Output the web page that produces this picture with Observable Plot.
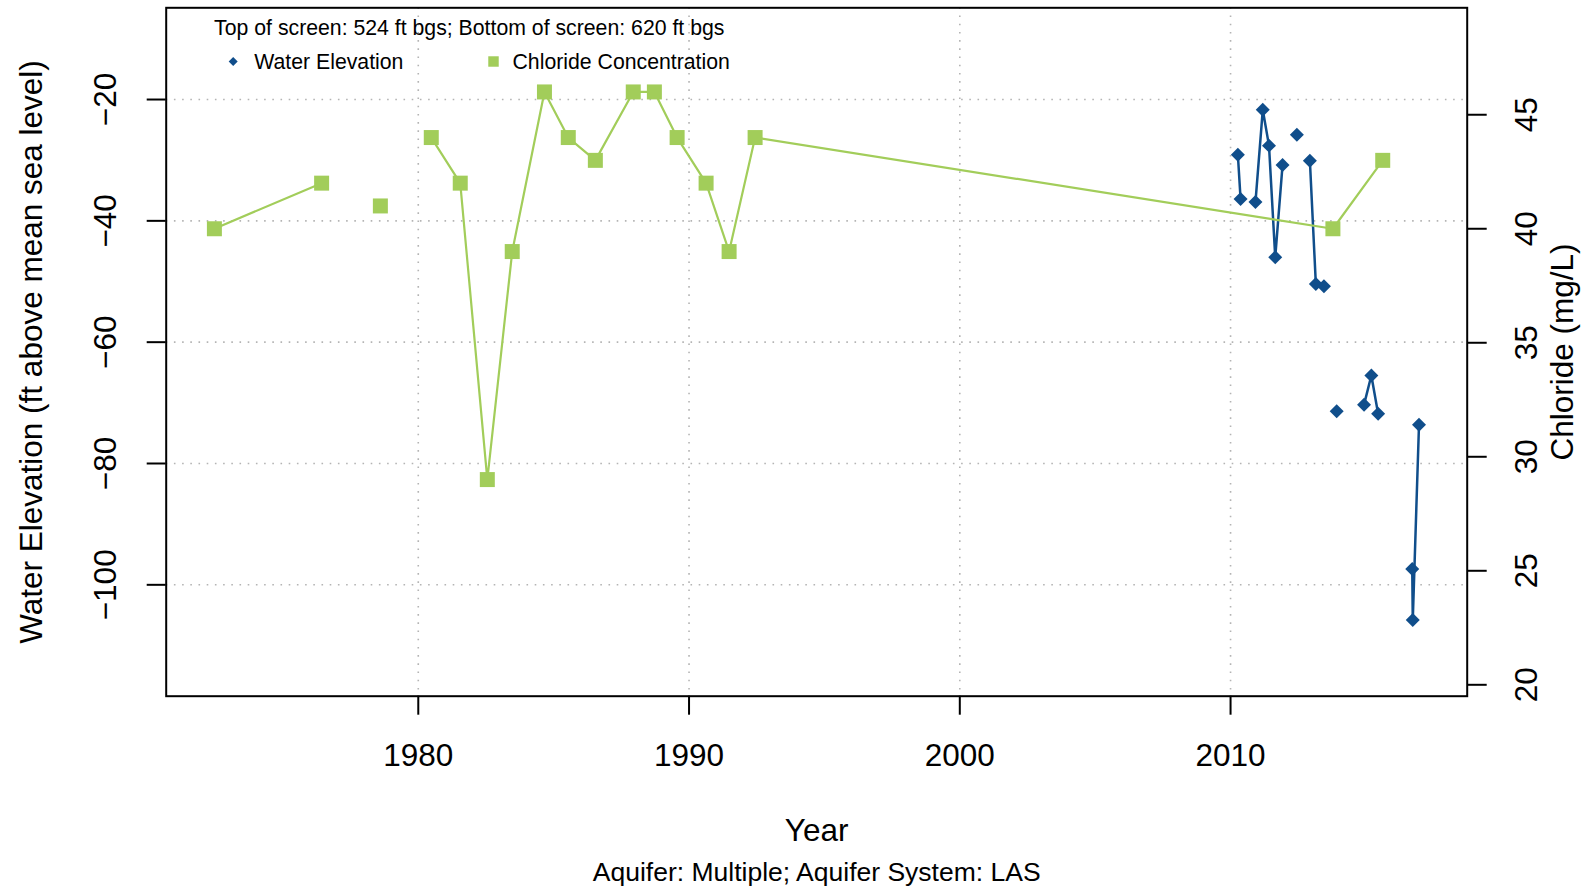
<!DOCTYPE html>
<html>
<head>
<meta charset="utf-8">
<script src="https://cdn.jsdelivr.net/npm/d3@7"></script>
<script src="https://cdn.jsdelivr.net/npm/@observablehq/plot@0.6"></script>
<style>
  html, body { margin: 0; padding: 0; background: #ffffff; }
  #chart svg { display: block; }
</style>
</head>
<body>
<div id="chart"></div>
<script>
// ---- Data ----
const chlYear  = [1972.47, 1976.43, 1978.60, 1980.48, 1981.55, 1982.55, 1983.47, 1984.66, 1985.54, 1986.54, 1987.94, 1988.72, 1989.56, 1990.63, 1991.48, 1992.44, 2013.78, 2015.62];
const chlValue = [40, 42, 41, 44, 42, 29, 39, 46, 44, 43, 46, 46, 44, 42, 39, 44, 40, 43];
const chlGroup = [1, 1, 2, 3, 3, 3, 3, 3, 3, 3, 3, 3, 3, 3, 3, 3, 3, 3];

const wlYear  = [2010.27, 2010.37, 2010.92, 2011.19, 2011.42, 2011.65, 2011.92, 2012.45, 2012.93, 2013.15, 2013.45, 2013.92, 2014.93, 2015.20, 2015.45, 2016.71, 2016.73, 2016.96];
const wlValue = [-29.1, -36.4, -36.9, -21.7, -27.6, -46.0, -30.8, -25.8, -30.1, -50.4, -50.8, -71.4, -70.3, -65.5, -71.8, -97.4, -105.8, -73.6];
const wlGroup = [1, 1, 2, 2, 2, 2, 2, 3, 4, 4, 4, 5, 6, 6, 6, 7, 7, 7];

const xTicks   = [1980, 1990, 2000, 2010];
const yTicks   = [-20, -40, -60, -80, -100];
const chlTicks = [20, 25, 30, 35, 40, 45];

const xDomain   = [1970.69, 2018.74];
const yDomain   = [-118.36, -4.88];
const chlDomain = [19.5, 49.69];

const subtitle = "Top of screen: 524 ft bgs; Bottom of screen: 620 ft bgs";
const legendLabels = ["Water Elevation", "Chloride Concentration"];
const xTitle = "Year";
const yTitle = "Water Elevation (ft above mean sea level)";
const y2Title = "Chloride (mg/L)";
const caption = "Aquifer: Multiple; Aquifer System: LAS";

const BLUE = "#104E8B";
const GREEN = "#A2CD5A";
const GRID = "#b4b4b4";
const FONT = "'Liberation Sans', Arial, Helvetica, sans-serif";

// secondary (chloride) axis mapped onto the primary y scale
const toLeft = c => yDomain[0] + (c - chlDomain[0]) / (chlDomain[1] - chlDomain[0]) * (yDomain[1] - yDomain[0]);
const fromLeft = v => chlDomain[0] + (v - yDomain[0]) / (yDomain[1] - yDomain[0]) * (chlDomain[1] - chlDomain[0]);

const chl = chlYear.map((x, i) => ({x, v: toLeft(chlValue[i]), g: chlGroup[i]}));
const wl = wlYear.map((x, i) => ({x, v: wlValue[i], g: wlGroup[i]}));

const minus = d => (d < 0 ? "\u2212" + Math.abs(d) : String(d));

const chart = Plot.plot({
  width: 1596,
  height: 888,
  marginTop: 7.3,
  marginBottom: 192.3,
  marginLeft: 165.7,
  marginRight: 129.3,
  style: {fontFamily: FONT, background: "#ffffff", color: "#000000"},
  x: {domain: xDomain},
  y: {domain: yDomain},
  marks: [
    Plot.gridX(xTicks, {stroke: GRID, strokeOpacity: 1, strokeWidth: 1.6, strokeDasharray: "1.6,6.6"}),
    Plot.gridY(yTicks, {stroke: GRID, strokeOpacity: 1, strokeWidth: 1.6, strokeDasharray: "1.6,6.6"}),
    Plot.axisX(xTicks, {tickSize: 19, tickPadding: 28.6, fontSize: 31.5, strokeWidth: 2, tickFormat: d => String(d), label: null}),
    Plot.axisY(yTicks, {anchor: "left", tickSize: 19, tickPadding: 31.7, tickRotate: -90, fontSize: 31.5, strokeWidth: 2, tickFormat: minus, label: null}),
    Plot.axisY(chlTicks.map(toLeft), {anchor: "right", tickSize: 19, tickPadding: 51, tickRotate: -90, fontSize: 31.5, strokeWidth: 2, tickFormat: d => String(Math.round(fromLeft(d))), label: null}),
    // water elevation
    Plot.line(wl, {x: "x", y: "v", z: "g", stroke: BLUE, strokeWidth: 2.5}),
    Plot.dot(wl, {x: "x", y: "v", symbol: "diamond2", r: 6.3, fill: BLUE, stroke: "none"}),
    // chloride
    Plot.line(chl, {x: "x", y: "v", z: "g", stroke: GREEN, strokeWidth: 2.2}),
    Plot.dot(chl, {x: "x", y: "v", symbol: "square", r: 8.46, fill: GREEN, stroke: "none"}),
    Plot.frame({stroke: "#000000", strokeWidth: 2}),
    // subtitle + legend inside plot area
    Plot.text([subtitle], {frameAnchor: "top-left", dx: 47.9, dy: 27, textAnchor: "start", lineAnchor: "bottom", fontSize: 21.25, fill: "#000"}),
    Plot.dot([0], {frameAnchor: "top-left", dx: 67, dy: 53.7, symbol: "diamond2", r: 4.05, fill: BLUE, stroke: "none"}),
    Plot.text([legendLabels[0]], {frameAnchor: "top-left", dx: 88, dy: 61, textAnchor: "start", lineAnchor: "bottom", fontSize: 21.25, fill: "#000"}),
    Plot.dot([0], {frameAnchor: "top-left", dx: 327.3, dy: 53.7, symbol: "square", r: 5.9, fill: GREEN, stroke: "none"}),
    Plot.text([legendLabels[1]], {frameAnchor: "top-left", dx: 346.3, dy: 61, textAnchor: "start", lineAnchor: "bottom", fontSize: 21.25, fill: "#000"}),
    // axis titles + caption
    Plot.text([xTitle], {frameAnchor: "bottom", dy: 144.3, textAnchor: "middle", lineAnchor: "bottom", fontSize: 31.5, fill: "#000"}),
    Plot.text([caption], {frameAnchor: "bottom", dy: 184.3, textAnchor: "middle", lineAnchor: "bottom", fontSize: 26.5, fill: "#000"}),
    Plot.text([yTitle], {frameAnchor: "left", dx: -124.7, rotate: -90, textAnchor: "middle", lineAnchor: "bottom", fontSize: 31.5, fill: "#000"}),
    Plot.text([y2Title], {frameAnchor: "right", dx: 105.3, rotate: -90, textAnchor: "middle", lineAnchor: "bottom", fontSize: 31.5, fill: "#000"})
  ]
});
document.getElementById("chart").appendChild(chart);
</script>
</body>
</html>
